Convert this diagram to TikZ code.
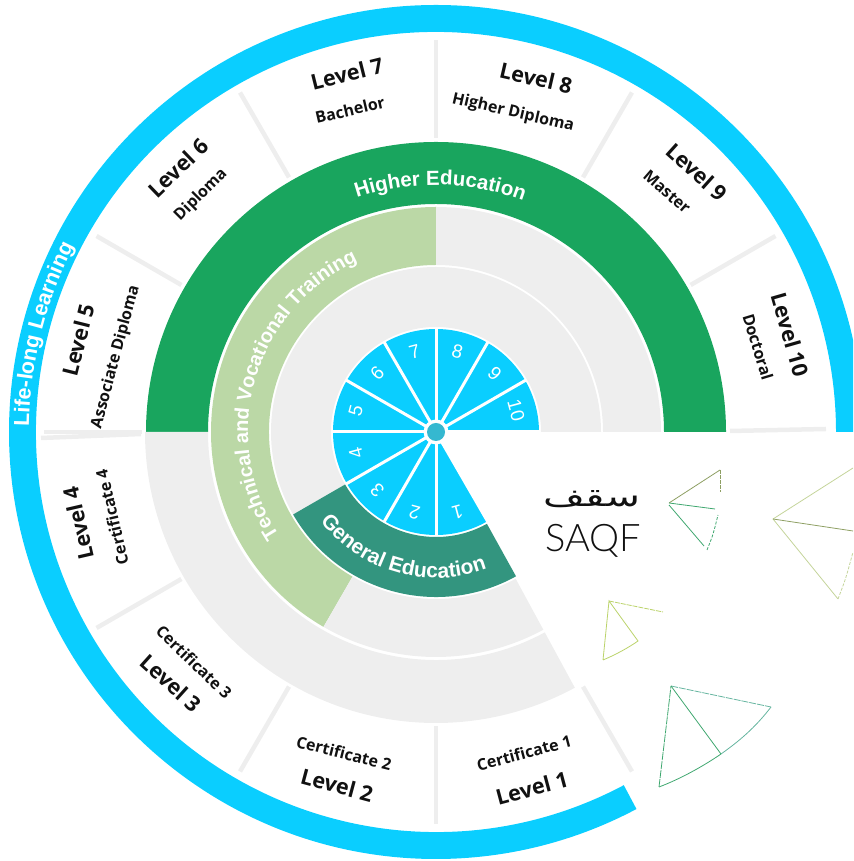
\documentclass[tikz,border=0pt]{standalone}
\usepackage{fontspec}
\usetikzlibrary{decorations.text}
\setmainfont{Open Sans}
\newfontfamily\curvefont{Liberation Sans}
\newfontfamily\saqffont{Lato Light}
\newfontfamily\arabicfont[Script=Arabic]{DejaVu Sans}
\TeXXeTstate=1
\definecolor{lifeblue}{HTML}{0ACEFF}
\definecolor{higher}{HTML}{19A55E}
\definecolor{tvt}{HTML}{BBD8A6}
\definecolor{general}{HTML}{33957F}
\definecolor{ringgray}{HTML}{EEEEEE}
\definecolor{hub}{HTML}{35B8D0}
\definecolor{ink}{HTML}{111111}
\definecolor{triolive}{HTML}{8E9F63}
\definecolor{trigreen}{HTML}{3FA76F}
\definecolor{triteal}{HTML}{66B5A0}
\definecolor{trilight}{HTML}{C4D49A}
\definecolor{trilime}{HTML}{BBD36A}
\newcommand{\ringsector}[5]{\fill[#1] (#4:#3) arc (#4:#5:#3) -- (#5:#2) arc (#5:#4:#2) -- cycle;}
\tikzset{
  sepline/.style={draw=ringgray,line width=4.5pt},
  spoke/.style={draw=white,line width=3pt},
  lvl/.style={font=\bfseries\fontsize{21.5}{21}\selectfont,text=ink,inner sep=0pt},
  sub/.style={font=\bfseries\fontsize{16}{16}\selectfont,text=ink,inner sep=0pt},
  num/.style={font=\curvefont\fontsize{19}{19}\selectfont,text=white,inner sep=0pt},
  tri/.style={line width=0.8pt},
}
\begin{document}
\begin{tikzpicture}[x=1pt,y=1pt]
\useasboundingbox (0,0) rectangle (853,861);
\clip (0,0) rectangle (853,861);
\begin{scope}[shift={(436,429)}]
  % rings
  \ringsector{lifeblue}{400}{427}{0}{298}
  \ringsector{higher}{228}{290}{0}{180}
  \ringsector{ringgray}{228}{291}{180}{298.5}
  \ringsector{tvt}{167}{225}{90}{240}
  \ringsector{ringgray}{167}{225}{0}{90}
  \ringsector{ringgray}{167}{225}{240}{298.5}
  \ringsector{ringgray}{105}{165}{0}{210}
  \ringsector{general}{105}{165}{210}{299}
  % separators of the levels
  \foreach \a in {30,60,...,300} {\draw[sepline] (\a:294) -- (\a:392);}
  \draw[sepline] (294,1) -- (390,3);
  \draw[sepline] (-395,-6) -- (-295,-2);
  % wheel
  \fill[lifeblue] (0,0) -- (0:103) arc (0:300:103) -- cycle;
  \foreach \a in {0,30,...,300} {\draw[spoke] (0,0) -- (\a:104);}
  \fill[white] (0,0) circle (12.5);
  \fill[hub] (0,0) circle (9);
  \foreach \n/\a in {10/15,9/45,8/75,7/105,6/135,5/165,4/195,3/225,2/255,1/285}
    {\node[num,rotate=\a-90] (w\n) at (\a:83) {\n};}
  % curved titles
  \path[decorate,decoration={text along path,text align=center,text color=white,
    text={|\curvefont\bfseries\fontsize{20.5}{20}\selectfont|Higher Education}}]
    (130:247) arc (130:48:247);
  \path[decorate,decoration={text along path,text align=center,text color=white,
    text={|\curvefont\bfseries\fontsize{20}{20}\selectfont|Technical and Vocational Training}}]
    (234:188) arc (234:94:188);
  \path[decorate,decoration={text along path,text align=center,text color=white,
    text={|\curvefont\bfseries\fontsize{21}{20}\selectfont|General Education}}]
    (204:146) arc (204:304:146);
  \path[decorate,decoration={text along path,text align=center,text color=white,
    text={|\curvefont\bfseries\fontsize{21.5}{20}\selectfont|Life-long Learning}}]
    (200:407) arc (200:132:407);
\end{scope}
\begin{scope}[y=-1pt,yshift=861pt]
  % level labels
  \node[lvl,rotate=14] (l7) at (347,74) {Level 7};
  \node[sub,rotate=13] (s7) at (350,110) {Bachelor};
  \node[lvl,rotate=-13] (l8) at (536,78) {Level 8};
  \node[sub,rotate=-13] (s8) at (513,113) {Higher Diploma};
  \node[lvl,rotate=-42] (l9) at (697,172) {Level 9};
  \node[sub,rotate=-41] (s9) at (667,192) {Master};
  \node[lvl,rotate=-74] (l10) at (790,335) {Level 10};
  \node[sub,rotate=-73] (s10) at (758,347) {Doctoral};
  \node[lvl,rotate=44] (l6) at (178,168) {Level 6};
  \node[sub,rotate=45] (s6) at (201,195) {Diploma};
  \node[lvl,rotate=76] (l5) at (78,340) {Level 5};
  \node[sub,rotate=75] (s5) at (116,357) {Associate Diploma};
  \node[lvl,rotate=103] (l4) at (78,523) {Level 4};
  \node[sub,rotate=103] (s4) at (112,517) {Certificate 4};
  \node[lvl,rotate=-42] (l3) at (171,683) {Level 3};
  \node[sub,rotate=-44] (s3) at (194,662) {Certificate 3};
  \node[lvl,rotate=-15] (l2) at (337,785) {Level 2};
  \node[sub,rotate=-14] (s2) at (344,753) {Certificate 2};
  \node[lvl,rotate=15] (l1) at (532,788) {Level 1};
  \node[sub,rotate=15] (s1) at (524,753) {Certificate 1};
  % logo
  \node[inner sep=0pt,text=ink] (ar) at (592,499) {\scalebox{1.35}[0.95]{\arabicfont\fontsize{30}{30}\selectfont\beginR سقف\endR}};
  \node[inner sep=0pt,text=ink] (saqf) at (593,541) {\saqffont\fontsize{38}{38}\selectfont SAQF};
  % small triangles
  \draw[tri,draw=triolive] (720,470) -- (669,503);
  \draw[tri,draw=trigreen] (669,503) -- (715,509);
  \draw[tri,draw=triolive,dash pattern=on 4pt off 1pt] (720,470) -- (720,492);
  \draw[tri,draw=trigreen] (669,505) -- (704,546);
  \draw[tri,draw=trigreen,dash pattern=on 3pt off 1.5pt] (707,550) .. controls (713,535) .. (718,515);
  \draw[tri,draw=trilight] (853,468) -- (773,519) -- (838,599);
  \draw[tri,draw=triolive] (773,519) -- (853,531);
  \draw[tri,draw=trilight,dash pattern=on 3pt off 1.5pt] (838,599) .. controls (846,578) .. (853,552);
  \draw[tri,draw=trilime] (603,660) -- (609,601) -- (638,641) .. controls (628,648) and (615,655) .. (603,660);
  \draw[tri,draw=trilime,dash pattern=on 5pt off 1pt] (609,601) -- (663,612);
  \draw[tri,draw=triteal,dash pattern=on 7pt off 1pt] (671,686) -- (771,707);
  \draw[tri,draw=triteal] (771,707) .. controls (755,728) and (738,742) .. (721,754);
  \draw[tri,draw=trigreen] (721,754) .. controls (702,767) and (680,779) .. (659,787);
  \draw[tri,draw=trigreen,dash pattern=on 8pt off 1pt] (659,787) -- (671,686);
  \draw[tri,draw=trigreen] (671,686) -- (721,754);
\end{scope}
\end{tikzpicture}
\end{document}
